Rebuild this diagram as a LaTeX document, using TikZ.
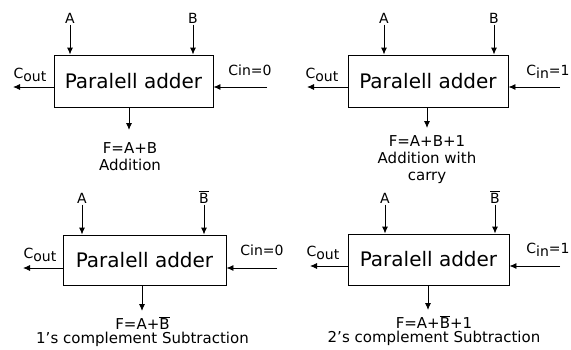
\documentclass[tikz,border=0pt]{standalone}
\usepackage{fontspec}
\setmainfont{DejaVu Sans}
\usetikzlibrary{arrows.meta}
\newcommand\csub[1]{\raisebox{-0.35ex}{#1}}
\newcommand\nb{$\overline{\mbox{B}}$}
\begin{document}
\begin{tikzpicture}[x=1pt, y=-1pt, >={Latex[length=7pt,width=6pt]}, line width=0.9pt,
  adder/.style={draw, rectangle, inner sep=0pt, font=\fontsize{20}{24}\selectfont},
  lbl/.style={inner sep=1pt, font=\fontsize{14}{16}\selectfont},
  res/.style={inner sep=0pt, anchor=north, align=center, font=\fontsize{15}{17}\selectfont}]
  \useasboundingbox (0,0) rectangle (571,349);

  \node[adder, minimum width=159pt, minimum height=52pt] (add1) at (133.5,81) {Paralell adder};
  \node[lbl] (a1) at (70,18) {A};
  \node[lbl] (b1) at (193,18) {B};
  \node[lbl] (co1) at (30,75) {C\csub{out}};
  \node[lbl] (ci1) at (250,70) {Cin=0};
  \node[res] (f1) at (130,142) {F=A+B\\Addition};
  \coordinate (cl1) at (13,87);
  \coordinate (cr1) at (267,87);
  \coordinate (fo1) at (129,130);
  \draw[->] (a1) -- (a1 |- add1.north);
  \draw[->] (b1) -- (b1 |- add1.north);
  \draw[->] (cl1 -| add1.west) -- (cl1);
  \draw[->] (cr1) -- (cr1 -| add1.east);
  \draw[->] (fo1 |- add1.south) -- (fo1);

  \node[adder, minimum width=160pt, minimum height=52pt] (add2) at (428,81) {Paralell adder};
  \node[lbl] (a2) at (384,18) {A};
  \node[lbl] (b2) at (494,18) {B};
  \node[lbl] (co2) at (322,75) {C\csub{out}};
  \node[lbl] (ci2) at (548,72) {C\csub{in}=1};
  \node[res] (f2) at (427,135) {F=A+B+1\\Addition with\\carry};
  \coordinate (cl2) at (307,87);
  \coordinate (cr2) at (560,87);
  \coordinate (fo2) at (427,128);
  \draw[->] (a2) -- (a2 |- add2.north);
  \draw[->] (b2) -- (b2 |- add2.north);
  \draw[->] (cl2 -| add2.west) -- (cl2);
  \draw[->] (cr2) -- (cr2 -| add2.east);
  \draw[->] (fo2 |- add2.south) -- (fo2);

  \node[adder, minimum width=163pt, minimum height=50pt] (add3) at (144.5,260) {Paralell adder};
  \node[lbl] (a3) at (82,198) {A};
  \node[lbl] (b3) at (204,197) {\nb};
  \node[lbl] (co3) at (40,255) {C\csub{out}};
  \node[lbl] (ci3) at (262,250) {Cin=0};
  \node[res, font=\fontsize{15}{14.5}\selectfont] (f3) at (142.5,316) {F=A+\nb\\1's complement Subtraction};
  \coordinate (cl3) at (23,268);
  \coordinate (cr3) at (277,268);
  \coordinate (fo3) at (142,311);
  \draw[->] (a3) -- (a3 |- add3.north);
  \draw[->] (b3) -- (b3 |- add3.north);
  \draw[->] (cl3 -| add3.west) -- (cl3);
  \draw[->] (cr3) -- (cr3 -| add3.east);
  \draw[->] (fo3 |- add3.south) -- (fo3);

  \node[adder, minimum width=161pt, minimum height=51pt] (add4) at (428.5,259.5) {Paralell adder};
  \node[lbl] (a4) at (385,198) {A};
  \node[lbl] (b4) at (495,197) {\nb};
  \node[lbl] (co4) at (323,253) {C\csub{out}};
  \node[lbl] (ci4) at (548,250) {C\csub{in}=1};
  \node[res, font=\fontsize{15}{14.5}\selectfont] (f4) at (434,315) {F=A+\nb+1\\2's complement Subtraction};
  \coordinate (cl4) at (310,266);
  \coordinate (cr4) at (560,266);
  \coordinate (fo4) at (428,310);
  \draw[->] (a4) -- (a4 |- add4.north);
  \draw[->] (b4) -- (b4 |- add4.north);
  \draw[->] (cl4 -| add4.west) -- (cl4);
  \draw[->] (cr4) -- (cr4 -| add4.east);
  \draw[->] (fo4 |- add4.south) -- (fo4);
\end{tikzpicture}
\end{document}
